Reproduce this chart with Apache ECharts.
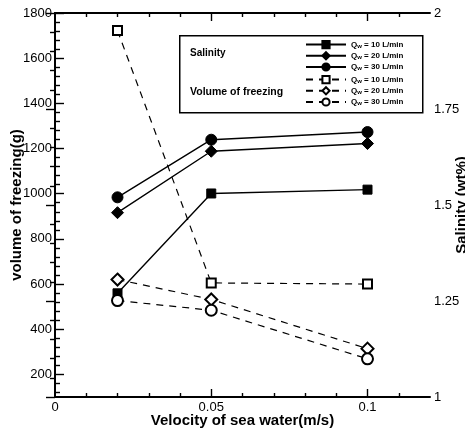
<!DOCTYPE html>
<html>
<head>
<meta charset="utf-8">
<script src="https://cdn.jsdelivr.net/npm/echarts@6/dist/echarts.min.js"></script>
<style>
  html, body { margin: 0; padding: 0; background: #fff; }
  #chart { width: 465px; height: 436px; }
</style>
</head>
<body>
<div id="chart"></div>
<script>
// velocity of sea water (m/s)
var velocity = [0.02, 0.05, 0.1];
// salinity (wt%), filled markers, right axis
var salinity10 = [1.27, 1.53, 1.54];
var salinity20 = [1.48, 1.64, 1.66];
var salinity30 = [1.52, 1.67, 1.69];
// volume of freezing (g), open markers, left axis
var volume10 = [1722, 605, 600];
var volume20 = [620, 532, 314];
var volume30 = [527, 484, 269];

// tick labels
var xLabels = [0, 0.05, 0.1];
var leftLabels = [200, 400, 600, 800, 1000, 1200, 1400, 1600, 1800];
var rightLabels = [1, 1.25, 1.5, 1.75, 2];

function steps(from, to, step, skip) {
	var out = [];
	for (var v = from; v <= to + 1e-9; v += step) {
		var r = Math.round(v * 10000) / 10000;
		if (skip && Math.abs(r / skip - Math.round(r / skip)) < 1e-6) continue;
		out.push(r);
	}
	return out;
}

var FONT = '"Liberation Sans", Arial, sans-serif';
var black = '#000';

function pairs(ys) {
	return velocity.map(function (x, i) { return [x, ys[i]]; });
}

// 一条数据线
function line(name, ys, yIdx, symbol, size, dashed) {
	return {
		name: name,
		type: 'line',
		xAxisIndex: 0,
		yAxisIndex: yIdx,
		data: pairs(ys),
		symbol: symbol,
		symbolSize: size,
		showAllSymbol: true,
		lineStyle: { color: black, width: dashed ? 1.2 : 1.4, type: dashed ? [7, 6] : 'solid' },
		itemStyle: { color: black, borderColor: black, borderWidth: 1 },
		emphasis: { disabled: true },
		animation: false
	};
}

var tickStyle = { color: black, width: 1.4 };
var nameStyle = { color: black, fontFamily: FONT, fontSize: 15, fontWeight: 'bold' };
function plain(v) { return String(v); }

function xAxisDef(pos, major, showLabel) {
	return {
		type: 'value', position: pos, min: 0, max: 0.12,
		axisLine: { show: major, lineStyle: { color: black, width: 2 } },
		axisTick: major
			? { show: true, inside: true, length: 8, lineStyle: tickStyle, customValues: [0.05, 0.1] }
			: { show: true, inside: true, length: 4, lineStyle: tickStyle, customValues: steps(0.01, 0.11, 0.01, 0.05) },
		axisLabel: showLabel
			? { show: true, customValues: xLabels, margin: 4, color: black, fontFamily: FONT, fontSize: 13, formatter: plain }
			: { show: false },
		splitLine: { show: false },
		name: showLabel ? 'Velocity of sea water(m/s)' : '',
		nameLocation: 'middle', nameGap: 16, nameMoveOverlap: false,
		nameTextStyle: nameStyle
	};
}

function legendRich() {
	return {
		b: { fontFamily: FONT, fontSize: 8, fontWeight: 'bold', color: black, lineHeight: 9 },
		s: { fontFamily: FONT, fontSize: 6, fontWeight: 'bold', color: black, lineHeight: 9, verticalAlign: 'bottom' }
	};
}

function legendFormatter(name) {
	var q = name.split(' ')[1];
	return '{b|Q}{s|w}{b| = ' + q + ' L/min}';
}

function legendDef(names, top) {
	return {
		data: names,
		orient: 'vertical', left: 305, top: top,
		itemWidth: 40, itemHeight: 9, itemGap: 2,
		padding: 0,
		formatter: legendFormatter,
		textStyle: { rich: legendRich(), lineHeight: 9 },
		selectedMode: false
	};
}

var chart = echarts.init(document.getElementById('chart'), null, { renderer: 'canvas' });

var option = {
	backgroundColor: '#fff',
	animation: false,
	grid: { left: 55, right: 35, top: 13, bottom: 39, containLabel: false, outerBoundsMode: 'none' },
	xAxis: [
		xAxisDef('bottom', true, true),
		xAxisDef('bottom', false, false),
		xAxisDef('top', true, false),
		xAxisDef('top', false, false)
	],
	yAxis: [
		{
			type: 'value', position: 'left', min: 100, max: 1800,
			axisLine: { show: true, lineStyle: { color: black, width: 2 } },
			axisTick: { show: true, inside: true, length: 9, lineStyle: tickStyle, customValues: leftLabels },
			axisLabel: { show: true, customValues: leftLabels, margin: 3, color: black, fontFamily: FONT, fontSize: 13, formatter: plain },
			splitLine: { show: false },
			name: 'volume of freezing(g)', nameLocation: 'middle', nameRotate: 90, nameGap: 31, nameMoveOverlap: false,
			nameTextStyle: nameStyle
		},
		{
			type: 'value', position: 'right', min: 1, max: 2,
			axisLine: { show: true, lineStyle: { color: black, width: 2 } },
			axisTick: { show: true, inside: true, length: 9, lineStyle: tickStyle, customValues: rightLabels },
			axisLabel: { show: true, customValues: rightLabels, margin: 4, color: black, fontFamily: FONT, fontSize: 13, formatter: plain },
			splitLine: { show: false },
			name: 'Salinity (wt%)', nameLocation: 'middle', nameRotate: 90, nameGap: 24, nameMoveOverlap: false,
			nameTextStyle: nameStyle
		},
		{
			type: 'value', position: 'left', min: 100, max: 1800,
			axisLine: { show: false },
			axisTick: { show: true, inside: true, length: 5, lineStyle: tickStyle, customValues: steps(120, 1760, 40, 200) },
			axisLabel: { show: false }, splitLine: { show: false }
		},
		{
			type: 'value', position: 'right', min: 1, max: 2,
			axisLine: { show: false },
			axisTick: { show: true, inside: true, length: 5, lineStyle: tickStyle, customValues: steps(1.05, 1.95, 0.05, 0.25) },
			axisLabel: { show: false }, splitLine: { show: false }
		}
	],
	legend: [
		legendDef(['Salinity 10', 'Salinity 20', 'Salinity 30'], 40),
		legendDef(['Volume 10', 'Volume 20', 'Volume 30'], 75)
	],
	graphic: [
		{
			type: 'rect', left: 179, top: 35, z: 0,
			shape: { width: 243, height: 77 },
			style: { fill: '#fff', stroke: black, lineWidth: 1.5 }
		},
		{
			type: 'text', left: 190, top: 48, z: 1,
			style: { text: 'Salinity', fill: black, font: 'bold 10px ' + FONT }
		},
		{
			type: 'text', left: 190, top: 87, z: 1,
			style: { text: 'Volume of freezing', fill: black, font: 'bold 10.5px ' + FONT }
		}
	],
	series: [
		line('Salinity 10', salinity10, 1, 'rect', 9, false),
		line('Salinity 20', salinity20, 1, 'diamond', 12, false),
		line('Salinity 30', salinity30, 1, 'circle', 11, false),
		line('Volume 10', volume10, 0, 'emptyRect', 9, true),
		line('Volume 20', volume20, 0, 'emptyDiamond', 12, true),
		line('Volume 30', volume30, 0, 'emptyCircle', 11, true)
	]
};

chart.setOption(option);
</script>
</body>
</html>
